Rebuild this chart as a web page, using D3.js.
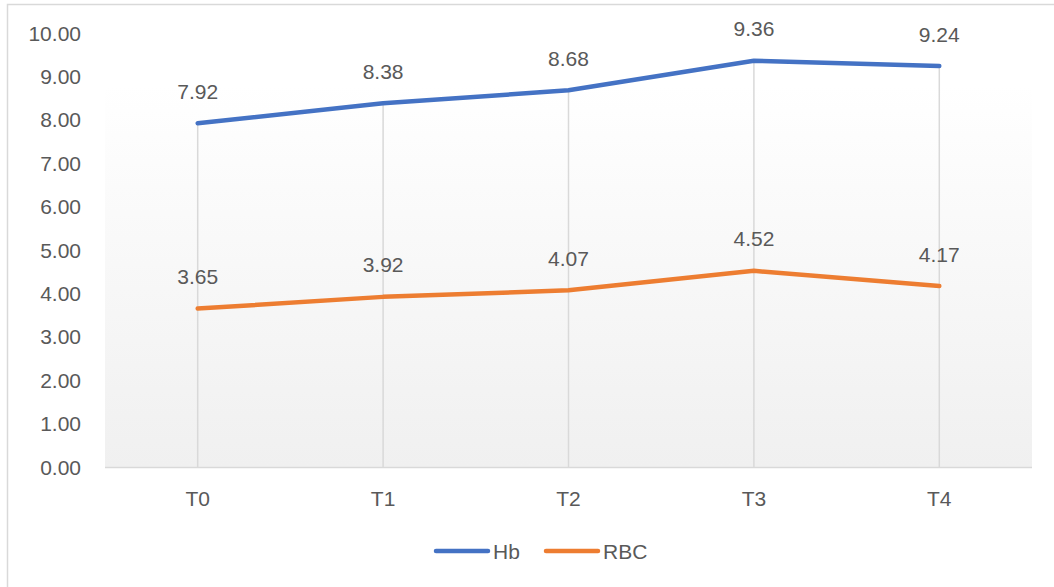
<!DOCTYPE html>
<html>
<head>
<meta charset="utf-8">
<script src="https://cdn.jsdelivr.net/npm/d3@7"></script>
<style>
  html, body { margin: 0; padding: 0; background: #fff; }
  svg { display: block; }
</style>
</head>
<body>
<script>
// Hb / RBC over time points
const categories = ["T0", "T1", "T2", "T3", "T4"];
const hbValues = [7.92, 8.38, 8.68, 9.36, 9.24];
const rbcValues = [3.65, 3.92, 4.07, 4.52, 4.17];
const yTicks = [0, 1, 2, 3, 4, 5, 6, 7, 8, 9, 10];

const series = [
  {name: "Hb", values: hbValues, color: "#4472C4"},
  {name: "RBC", values: rbcValues, color: "#ED7D31"}
];

const width = 1054, height = 587;
const margin = {top: 33, right: 22, bottom: 120, left: 105};
const innerW = width - margin.left - margin.right;
const innerH = height - margin.top - margin.bottom;
const font = "'Liberation Sans', Arial, sans-serif";
const textColor = "#595959";
const fs = 21;

const svg = d3.select("body").append("svg")
  .attr("width", width).attr("height", height)
  .style("font-family", font);

// chart frame (right/bottom edges fall outside the picture)
svg.append("rect")
  .attr("x", 7.5).attr("y", 4.5)
  .attr("width", 1060).attr("height", 600)
  .attr("fill", "#fff").attr("stroke", "#d9d9d9").attr("stroke-width", 1.5);

const defs = svg.append("defs");
const grad = defs.append("linearGradient")
  .attr("id", "plotBg").attr("x1", 0).attr("y1", 0).attr("x2", 0).attr("y2", 1);
grad.append("stop").attr("offset", "0%").attr("stop-color", "#ffffff");
grad.append("stop").attr("offset", "12%").attr("stop-color", "#ffffff");
grad.append("stop").attr("offset", "100%").attr("stop-color", "#f0f0f0");

const x = d3.scaleBand().domain(categories).range([0, innerW]);
const y = d3.scaleLinear().domain([0, 10]).range([innerH, 0]);
const cx = d => x(d) + x.bandwidth() / 2;

const g = svg.append("g").attr("transform", `translate(${margin.left},${margin.top})`);

g.append("rect")
  .attr("width", innerW).attr("height", innerH)
  .attr("fill", "url(#plotBg)");

// drop lines from the highest point down to the axis
categories.forEach((c, i) => {
  const top = d3.max(series, s => s.values[i]);
  g.append("line")
    .attr("x1", cx(c)).attr("x2", cx(c))
    .attr("y1", y(top)).attr("y2", innerH)
    .attr("stroke", "#d9d9d9").attr("stroke-width", 1.5);
});

// x axis line
g.append("line")
  .attr("x1", 0).attr("x2", innerW)
  .attr("y1", innerH + 0.5).attr("y2", innerH + 0.5)
  .attr("stroke", "#d9d9d9").attr("stroke-width", 1.5);

// y tick labels
g.selectAll(".ytick").data(yTicks).join("text")
  .attr("x", -24).attr("y", d => y(d))
  .attr("dy", "0.36em")
  .attr("text-anchor", "end")
  .attr("font-size", fs).attr("fill", textColor)
  .text(d => d.toFixed(2));

// category labels
g.selectAll(".xtick").data(categories).join("text")
  .attr("x", d => cx(d)).attr("y", innerH + 31)
  .attr("dy", "0.36em")
  .attr("text-anchor", "middle")
  .attr("font-size", fs).attr("fill", textColor)
  .text(d => d);

const line = d3.line()
  .x((d, i) => cx(categories[i]))
  .y(d => y(d));

for (const s of series) {
  g.append("path")
    .datum(s.values)
    .attr("d", line)
    .attr("fill", "none")
    .attr("stroke", s.color).attr("stroke-width", 4.5)
    .attr("stroke-linejoin", "round").attr("stroke-linecap", "round");

  g.selectAll(null).data(s.values).join("text")
    .attr("x", (d, i) => cx(categories[i]))
    .attr("y", d => y(d) - 32)
    .attr("dy", "0.36em")
    .attr("text-anchor", "middle")
    .attr("font-size", fs).attr("fill", textColor)
    .text(d => d.toFixed(2));
}

// legend
const legend = svg.append("g").attr("transform", "translate(435,551)");
const legendX = [0, 110];
series.forEach((s, i) => {
  const lg = legend.append("g").attr("transform", `translate(${legendX[i]},0)`);
  lg.append("line")
    .attr("x1", 1).attr("x2", 53).attr("y1", 0).attr("y2", 0)
    .attr("stroke", s.color).attr("stroke-width", 4.5)
    .attr("stroke-linecap", "round");
  lg.append("text")
    .attr("x", 58).attr("y", 0).attr("dy", "0.36em")
    .attr("font-size", fs).attr("fill", textColor)
    .text(s.name);
});
</script>
</body>
</html>
